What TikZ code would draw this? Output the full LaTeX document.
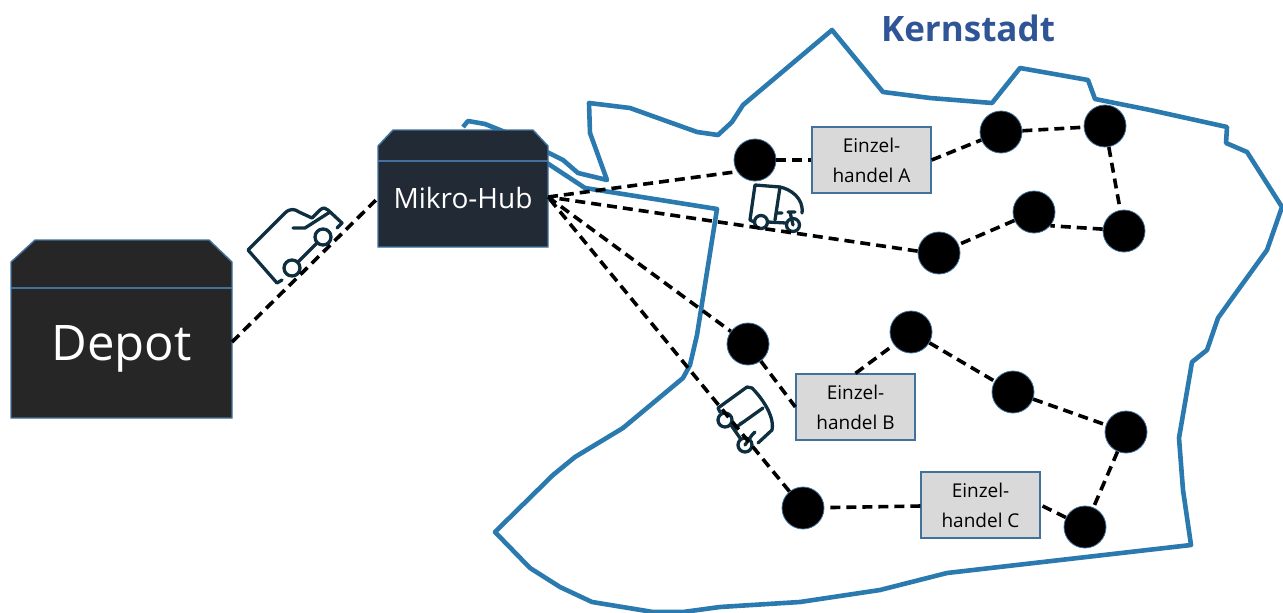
\documentclass[tikz,border=0pt]{standalone}
\usepackage{fontspec}
\setmainfont{Open Sans}
\definecolor{outl}{HTML}{2A7AB0}
\definecolor{boxedge}{HTML}{41719C}
\definecolor{depotfill}{HTML}{262626}
\definecolor{hubfill}{HTML}{222A35}
\definecolor{titleblue}{HTML}{2F5597}
\definecolor{iconc}{HTML}{0F2F40}
\definecolor{shopfill}{HTML}{D9D9D9}
\tikzset{
 x=1pt,y=-1pt,
 stop/.style={circle,fill=black,draw=boxedge,line width=.8pt,minimum size=42pt,inner sep=0pt},
 route/.style={line width=3.6pt,dash pattern=on 10pt off 6pt,black},
 shop/.style={draw=boxedge,line width=1.3pt,fill=shopfill,text=black,align=center,inner sep=0pt,minimum width=119pt,minimum height=66pt,text depth=0pt,font=\fontsize{19}{30}\selectfont},
 boundary/.style={draw=outl,line width=4.6pt,line join=round},
 icon/.style={draw=iconc,line width=3.3pt,line cap=round,line join=round},
 storeedge/.style={draw=boxedge,line width=1.4pt},
}
\begin{document}
\begin{tikzpicture}
\useasboundingbox (0,0) rectangle (1283,613);
% boundary
\draw[boundary] (463,127) -- (468,121) -- (485,124) -- (505,132) -- (547,152) -- (563,160) -- (578,173) -- (607,180) -- (590,133) -- (589,103) -- (630,108) -- (697,132) -- (718,135) -- (732,122) -- (743,105) -- (832,30) -- (883,92) -- (930,98) -- (992,103) -- (1020,68) -- (1088,80) -- (1095,99) -- (1150,110) -- (1227,127) -- (1226,143) -- (1247,152) -- (1282,207) -- (1267,250) -- (1233,297) -- (1218,318) -- (1207,350) -- (1192,362) -- (1179,438) -- (1183,490) -- (1191,545) -- (947,573) -- (880,590) -- (800,602) -- (720,607) -- (683,612) -- (653,612) -- (592,602) -- (560,587) -- (530,568) -- (495,532) -- (553,475) -- (575,457) -- (623,428) -- (683,378) -- (690,365) -- (697,335) -- (717,209) -- (585,188) -- (547,163);
% stores
\path[draw=boxedge,line width=1.4pt,fill=depotfill] (11,262) -- (35,240) -- (209,240) -- (232,262) -- (232,418) -- (11,418) -- cycle;
\draw[storeedge] (11,288) -- (232,288);
\node[text=white,font=\fontsize{49}{52}\selectfont] (depot) at (121.5,349) {Depot};
\path[draw=boxedge,line width=1.4pt,fill=hubfill] (378,146) -- (393,130) -- (533,130) -- (548,146) -- (548,247) -- (378,247) -- cycle;
\draw[storeedge] (378,161) -- (548,161);
\node[text=white,font=\fontsize{28}{30}\selectfont] (hub) at (463,198) {Mikro-Hub};
\node[font=\bfseries\fontsize{35}{38}\selectfont,text=titleblue] (title) at (968,28) {Kernstadt};
% coordinates and nodes
\coordinate (depotR) at (232,342);
\coordinate (hubL) at (378,198);
\coordinate (hubR) at (548,197);
\node[stop] (a1) at (755,160) {};
\node[stop] (a2) at (1001,132) {};
\node[stop] (a3) at (1105,126) {};
\node[stop] (a4) at (1124,231) {};
\node[stop] (a5) at (1034,212) {};
\node[stop] (a6) at (939,253) {};
\node[stop] (b1) at (748,344) {};
\node[stop] (b2) at (911,332) {};
\node[stop] (b3) at (1013,392) {};
\node[stop] (b4) at (1126,432) {};
\node[stop] (c1) at (803,508) {};
\node[stop] (c2) at (1085,527) {};
\node[shop] (sa) at (871.5,160) {Einzel-\\handel A};
\node[shop] (sb) at (855.5,407) {Einzel-\\handel B};
\node[shop] (sc) at (980.5,505) {Einzel-\\handel C};
% van
\draw[icon] (282,280) -- (277,283) -- (248,250) -- (285,213) .. controls (290,208) and (295,209) .. (299,212) -- (312,218) -- (320,210) .. controls (323,207) and (326,208) .. (328,210) -- (342,223) -- (337,228);
\draw[icon] (293,228) -- (305,228) -- (330,212);
\draw[icon] (292,268) circle (8pt) (323,237) circle (8pt) (298,262) -- (317,243);
% tuk-tuk 1
\draw[icon] (754,222) -- (750,220) -- (755,185) -- (780,187) .. controls (790,189) and (804,198) .. (802,213);
\draw[icon] (780,187) -- (775,220);
\draw[icon] (768,222) -- (786,223) (777,213) -- (782,213) (788,212) -- (795,212) (790,212) -- (793,225);
\draw[icon] (761,222) circle (6.5pt) (793,225) circle (6.5pt);
% tuk-tuk 2
\draw[icon] (720,412) -- (718,408) -- (747,387) -- (752,388) .. controls (760,396) and (775,415) .. (772,430) -- (758,443);
\draw[icon] (763,408) -- (735,428) (731,425) -- (740,438) (740,424) -- (745,421) (752,435) -- (755,432) (752,435) -- (745,445);
\draw[icon] (725,420) circle (7pt) (745,445) circle (7pt);
% routes
\draw[route] (depotR) -- (hubL);
\draw[route] (hubR) -- (a1.213);
\draw[route] (a1) -- (sa);
\draw[route] (sa.east) -- (a2);
\draw[route] (a2) -- (a3);
\draw[route] (a3) -- (a4);
\draw[route] (a4.175) -- (a5.-40);
\draw[route] (a5) -- (a6);
\draw[route] (a6.175) -- (hubR);
\draw[route] (hubR) -- (b1);
\draw[route] (b1) -- (sb.west);
\draw[route] (sb.north) -- (b2);
\draw[route] (b2) -- (b3);
\draw[route] (b3) -- (b4);
\draw[route] (b4) -- (c2);
\draw[route] (c2) -- (sc.east);
\draw[route] (sc) -- (c1);
\draw[route] (c1) -- (hubR);
\end{tikzpicture}
\end{document}
